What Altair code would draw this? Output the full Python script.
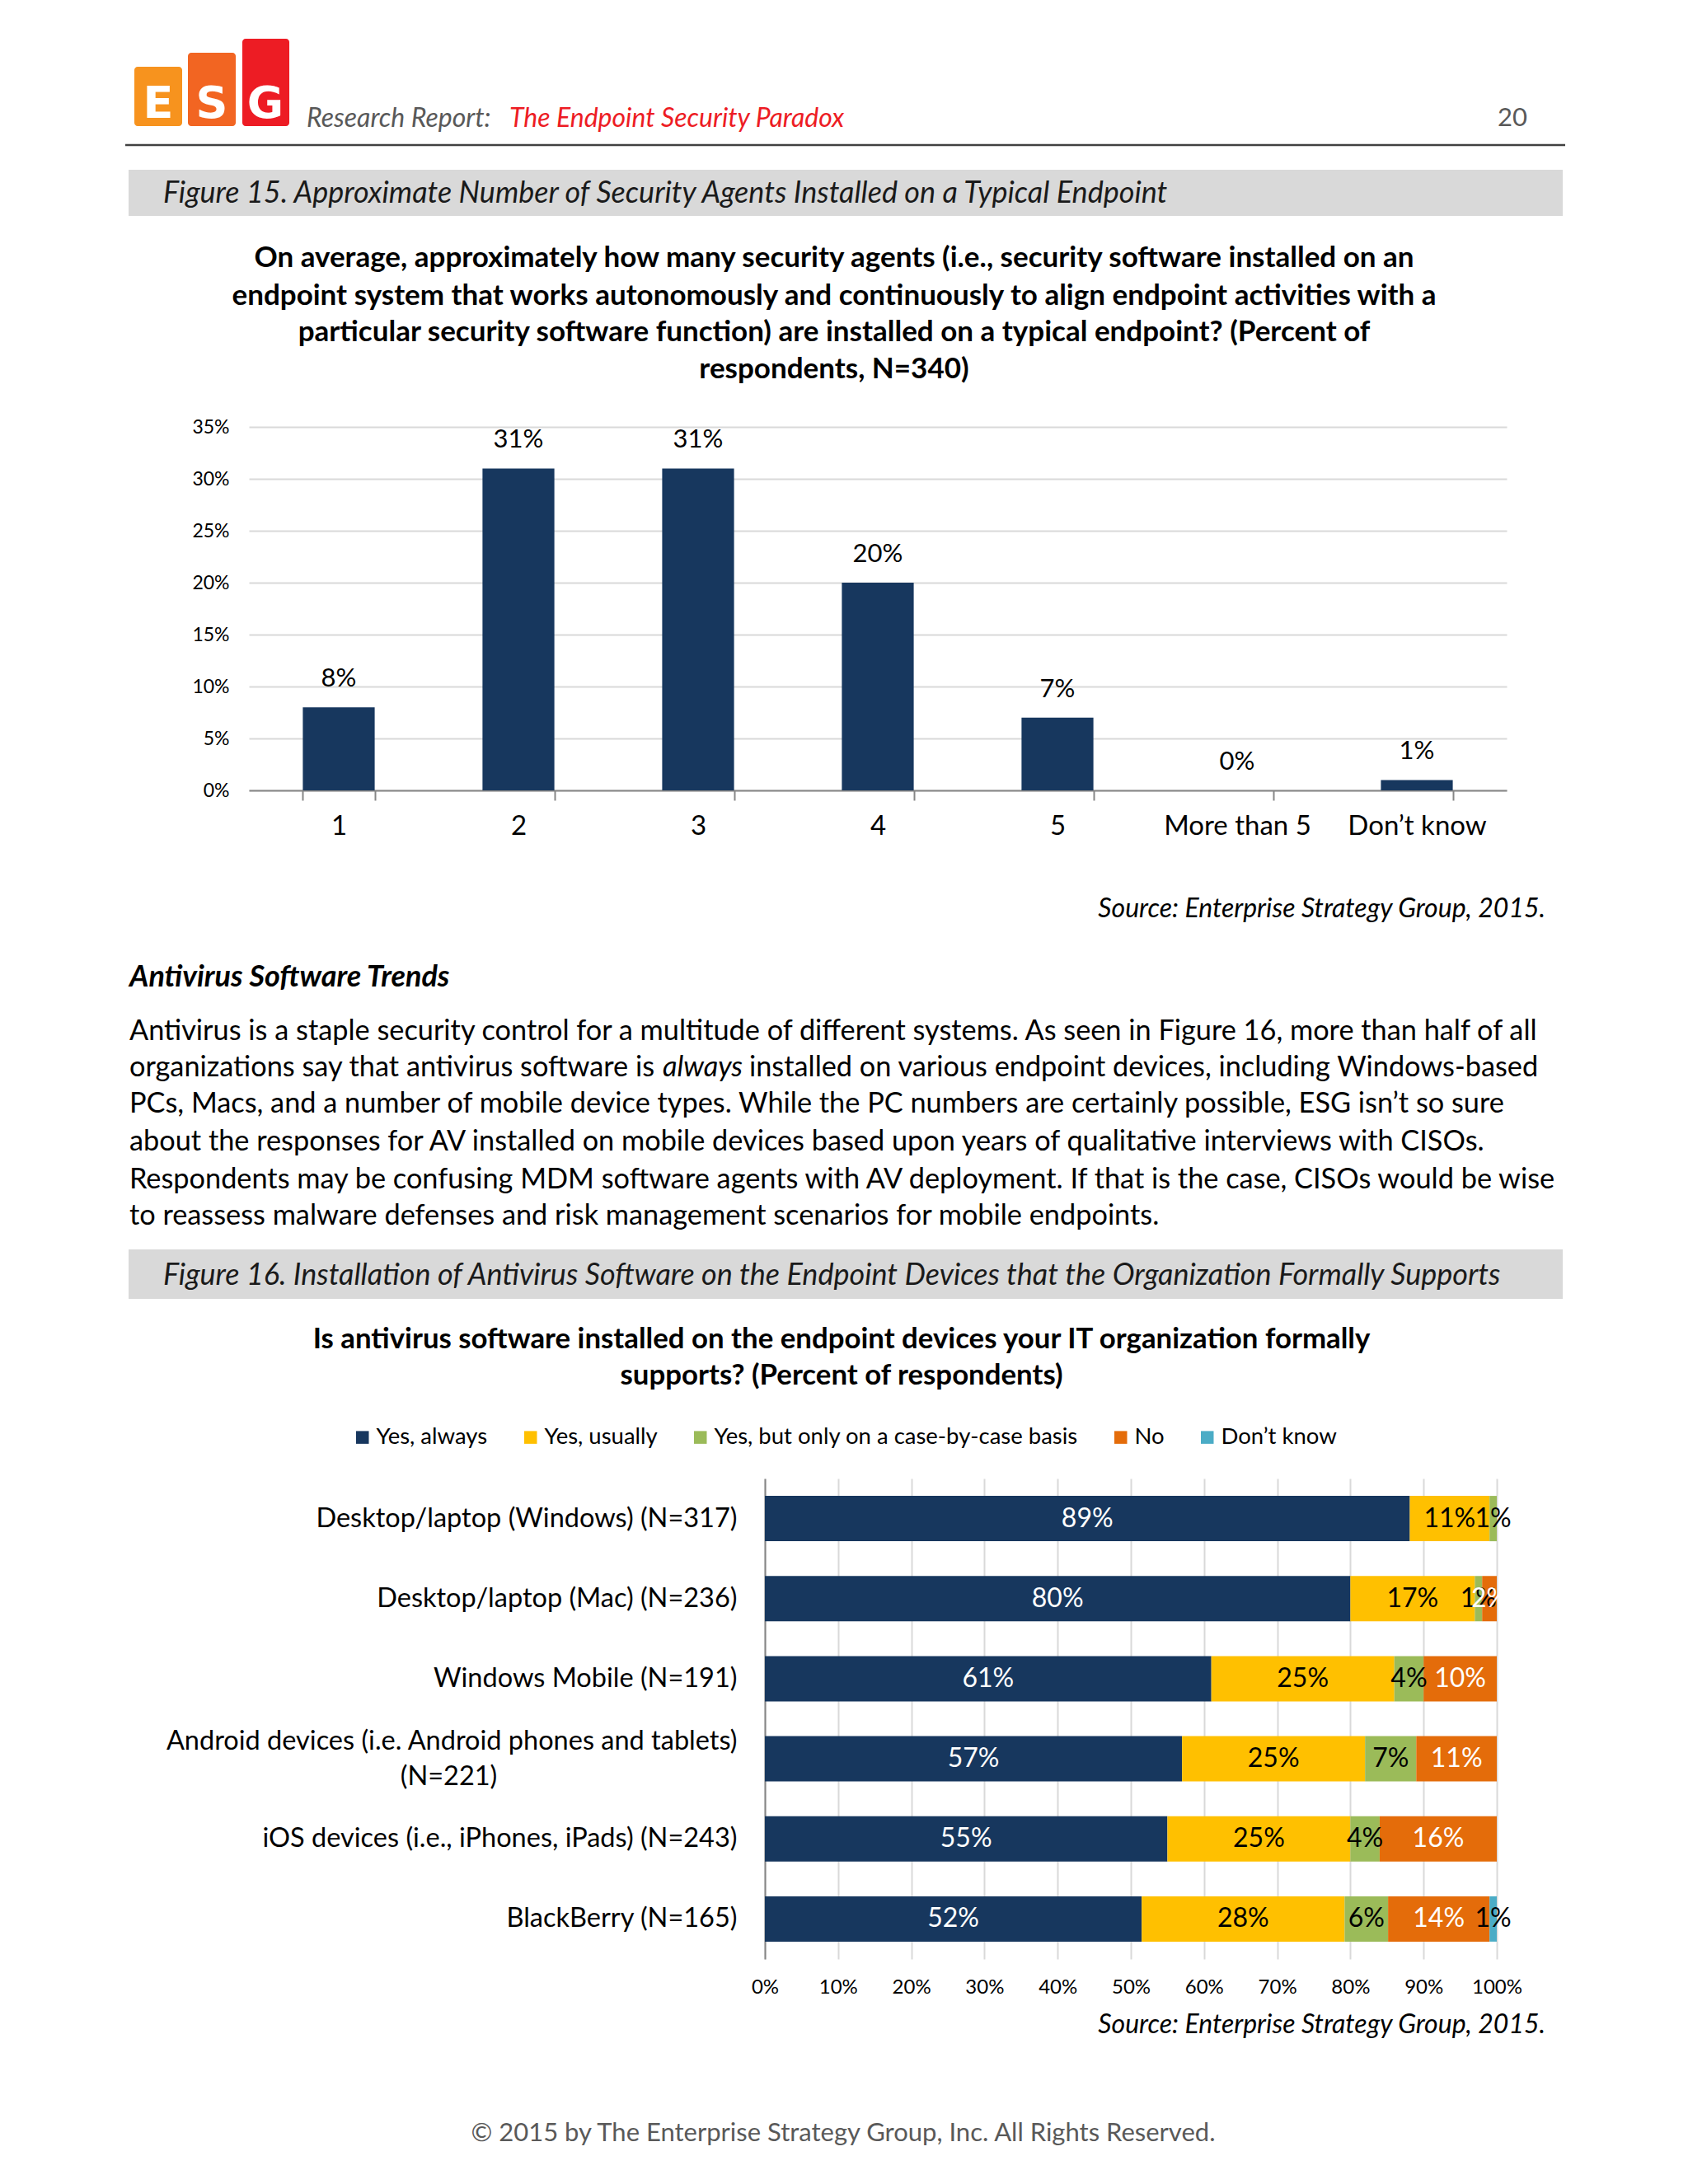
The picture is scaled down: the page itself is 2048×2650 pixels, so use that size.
import json
import altair as alt
import pandas as pd

FONT = "Lato"
NAVY = "#17375E"

# ---------------- Figure 15 data ----------------
agent_counts = ["1", "2", "3", "4", "5", "More than 5", "Don\u2019t know"]
agent_pct = [8, 31, 31, 20, 7, 0, 1]

# ---------------- Figure 16 data ----------------
devices = [
    "Desktop/laptop (Windows) (N=317)",
    "Desktop/laptop (Mac) (N=236)",
    "Windows Mobile (N=191)",
    "Android devices (i.e. Android phones and tablets) (N=221)",
    "iOS devices (i.e., iPhones, iPads) (N=243)",
    "BlackBerry (N=165)",
]
responses = ["Yes, always", "Yes, usually", "Yes, but only on a case-by-case basis", "No", "Don\u2019t know"]
resp_colors = [NAVY, "#FFC000", "#9BBB59", "#E46C0A", "#4BACC6"]
yes_always = [89, 80, 61, 57, 55, 52]
yes_usually = [11, 17, 25, 25, 25, 28]
case_by_case = [1, 1, 4, 7, 4, 6]
no_av = [0, 2, 10, 11, 16, 14]
dont_know = [0, 0, 0, 0, 0, 1]
series16 = [yes_always, yes_usually, case_by_case, no_av, dont_know]

# ---------------- page text ----------------
q15_lines = [
    "On average, approximately how many security agents (i.e., security software installed on an",
    "endpoint system that works autonomously and continuously to align endpoint activities with a",
    "particular security software function) are installed on a typical endpoint? (Percent of",
    "respondents, N=340)",
]
q16_lines = [
    "Is antivirus software installed on the endpoint devices your IT organization formally",
    "supports? (Percent of respondents)",
]
para1 = "Antivirus is a staple security control for a multitude of different systems. As seen in Figure 16, more than half of all"
para2a = "organizations say that antivirus software is"
para2b = "always"
para2c = "installed on various endpoint devices, including Windows-based"
para_rest = [
    "PCs, Macs, and a number of mobile device types. While the PC numbers are certainly possible, ESG isn\u2019t so sure",
    "about the responses for AV installed on mobile devices based upon years of qualitative interviews with CISOs.",
    "Respondents may be confusing MDM software agents with AV deployment. If that is the case, CISOs would be wise",
    "to reassess malware defenses and risk management scenarios for mobile endpoints.",
]
source = "Source: Enterprise Strategy Group, 2015."

one = pd.DataFrame({"k": [0]})
W = 2032


def text(s, x, y, size, color="#000000", align="left", weight="normal", style="normal",
         baseline="middle", font=FONT):
    return alt.Chart(one).mark_text(
        text=s, align=align, baseline=baseline, fontSize=size, fontWeight=weight,
        fontStyle=style, color=color, font=font
    ).encode(x=alt.value(x), y=alt.value(y))


def box(x1, x2, y1, y2, color, radius=0):
    return alt.Chart(one).mark_rect(color=color, cornerRadius=radius).encode(
        x=alt.value(x1), x2=alt.value(x2), y=alt.value(y1), y2=alt.value(y2))


def hline(x1, x2, y, color, w):
    return alt.Chart(one).mark_rule(color=color, strokeWidth=w).encode(
        x=alt.value(x1), x2=alt.value(x2), y=alt.value(y))


# ---------------- Panel A: header ----------------
layers_a = [
    box(155, 213, 73, 145, "#F7931E", 4),
    box(220, 278, 56, 145, "#F26522", 4),
    box(286, 343, 39, 145, "#ED1C24", 4),
    text("E", 184, 135, 54, "#FFFFFF", "center", "bold", baseline="alphabetic", font="DejaVu Sans"),
    text("S", 249, 135, 54, "#FFFFFF", "center", "bold", baseline="alphabetic", font="DejaVu Sans"),
    text("G", 314, 135, 54, "#FFFFFF", "center", "bold", baseline="alphabetic", font="DejaVu Sans"),
    text("Research Report:", 364, 136, 32, "#595959", style="italic"),
    text("The Endpoint Security Paradox", 610, 136, 32, "#ED1C24", style="italic"),
    text("20", 1845, 136, 31, "#595959", "right"),
    hline(144, 1891, 168, "#404040", 2.5),
    box(148, 1888, 198, 254, "#D9D9D9"),
    text("Figure 15. Approximate Number of Security Agents Installed on a Typical Endpoint",
         190, 227, 36, "#1A1A1A", style="italic"),
]
for ln, yy in zip(q15_lines, [305, 351, 395, 440]):
    layers_a.append(text(ln, 1004, yy, 35, weight="bold", align="center"))
panel_a = alt.layer(*layers_a).properties(width=W, height=510)

# ---------------- Row B: Chart 15 ----------------
df15 = pd.DataFrame({"count": agent_counts, "pct": agent_pct})
x15 = alt.X("count:N", sort=agent_counts, title=None,
            scale=alt.Scale(range=[294, 1820], paddingInner=0.6, paddingOuter=0.3),
            axis=alt.Axis(labelAngle=0, labelFontSize=33, labelColor="#000000", labelPadding=15,
                          tickBand="extent", tickSize=12, tickColor="#868686", tickWidth=2,
                          domainColor="#868686", domainWidth=2, grid=False, labelFont=FONT))
y15 = alt.Y("pct:Q", title=None, scale=alt.Scale(domain=[0, 35], nice=False),
            axis=alt.Axis(values=list(range(0, 36, 5)), labelExpr="datum.value + '%'", offset=-294,
                          labelFontSize=23, labelPadding=24, ticks=False, domain=False,
                          gridColor="#D9D9D9", gridWidth=2, labelColor="#000000", labelFont=FONT))
bars15 = alt.Chart(df15).mark_bar(color=NAVY).encode(x=x15, y=y15)
labels15 = alt.Chart(df15).transform_calculate(lbl="datum.pct + '%'").mark_text(
    baseline="middle", dy=-34, fontSize=31, font=FONT, color="#000000"
).encode(x=x15, y=y15, text="lbl:N")
row_b = alt.layer(bars15, labels15).properties(width=W, height=441)

# ---------------- Panel C: text between charts ----------------
PS = 34.3
layers_c = [
    text(source, 1867, 144, 32, style="italic", align="right"),
    text("Antivirus Software Trends", 149, 227, 36, weight="bold", style="italic"),
    text(para1, 149, 293, PS),
    text(para2a, 149, 337, PS),
    text(para2b, 796, 337, PS, style="italic"),
    text(para2c, 901, 337, PS),
]
for ln, yy in zip(para_rest, [381, 427, 473, 517]):
    layers_c.append(text(ln, 149, yy, PS))
layers_c += [
    box(148, 1888, 557, 617, "#D9D9D9"),
    text("Figure 16. Installation of Antivirus Software on the Endpoint Devices that the Organization Formally Supports",
         190, 589, 36, "#1A1A1A", style="italic"),
]
for ln, yy in zip(q16_lines, [667, 711]):
    layers_c.append(text(ln, 1013, yy, 34.8, weight="bold", align="center"))
panel_c = alt.layer(*layers_c).properties(width=W, height=835)

# ---------------- Row D: Chart 16 ----------------
rows = []
for i, d in enumerate(devices):
    for j, r in enumerate(responses):
        rows.append({"device": d, "resp": r, "order": j, "val": series16[j][i]})
df16 = pd.DataFrame(rows)

android = devices[3]
android_lines = ["Android devices (i.e. Android phones and tablets)",
                 "(N=221)" + "\u00a0" * 35 + "\u200b"]
label_expr = "datum.label == %s ? %s : datum.label" % (
    json.dumps(android, ensure_ascii=False), json.dumps(android_lines, ensure_ascii=False))
android_test = "datum.value == %s" % json.dumps(android, ensure_ascii=False)

y16 = alt.Y("device:N", sort=devices, title=None,
            scale=alt.Scale(paddingInner=0.434, paddingOuter=0.217),
            axis=alt.Axis(labelFontSize=32.5, labelColor="#000000", labelPadding=34, ticks=False,
                          offset=-920, domainColor="#868686", domainWidth=2, labelLimit=0,
                          labelLineHeight=43, labelExpr=label_expr, labelFont=FONT,
                          labelOffset={"condition": {"test": android_test, "value": -21}, "value": 0}))
axis16 = alt.Axis(values=[i / 10 for i in range(11)], format=".0%", labelFontSize=24, labelPadding=22,
                  ticks=False, domain=False, gridColor="#D9D9D9", gridWidth=2, labelFlush=False,
                  labelOverlap=False, labelColor="#000000", labelFont=FONT)
scale16 = alt.Scale(domain=[0, 1], nice=False, range=[920, 1808])

base16 = alt.Chart(df16).transform_filter("datum.val > 0").transform_joinaggregate(
    total="sum(val)", groupby=["device"]
).transform_window(
    cum="sum(val)", groupby=["device"], sort=[alt.SortField("order")], frame=[None, 0]
).transform_calculate(
    start="(datum.cum - datum.val) / datum.total",
    stop="datum.cum / datum.total",
    mid="(datum.cum - datum.val / 2) / datum.total",
    lbl="datum.val + '%'",
)
bars16 = base16.mark_bar().encode(
    x=alt.X("start:Q", scale=scale16, axis=axis16, title=None),
    x2="stop:Q",
    y=y16,
    color=alt.Color("resp:N", scale=alt.Scale(domain=responses, range=resp_colors),
                    legend=alt.Legend(title=None, orient="none", legendX=418, legendY=1722,
                                      direction="horizontal", symbolType="square", symbolSize=240,
                                      symbolStrokeWidth=0, labelFontSize=27.5, labelFont=FONT,
                                      labelColor="#000000", columnPadding=38, labelOffset=3,
                                      labelLimit=0, padding=0)),
)
labels16 = base16.mark_text(baseline="middle", fontSize=32, font=FONT).encode(
    x=alt.X("mid:Q", scale=scale16, axis=axis16, title=None),
    y=y16,
    text="lbl:N",
    color=alt.condition("datum.resp == 'Yes, always' || datum.resp == 'No'",
                        alt.value("#FFFFFF"), alt.value("#000000")),
)
row_d = alt.layer(bars16, labels16).properties(width=W, height=583)

# ---------------- Panel E: footer ----------------
panel_e = alt.layer(
    text(source, 1867, 80, 32, style="italic", align="right"),
    text("\u00a9 2015 by The Enterprise Strategy Group, Inc. All Rights Reserved.", 1015, 212, 31,
         "#595959", "center"),
).properties(width=W, height=265)

chart = alt.vconcat(panel_a, row_b, panel_c, row_d, panel_e, spacing=0, bounds="flush").properties(
    padding=0, background="#FFFFFF"
).configure_view(stroke=None).configure_axis(labelFont=FONT).configure_legend(labelFont=FONT)

chart.save("out.html", embed_options={"renderer": "svg", "actions": False})
